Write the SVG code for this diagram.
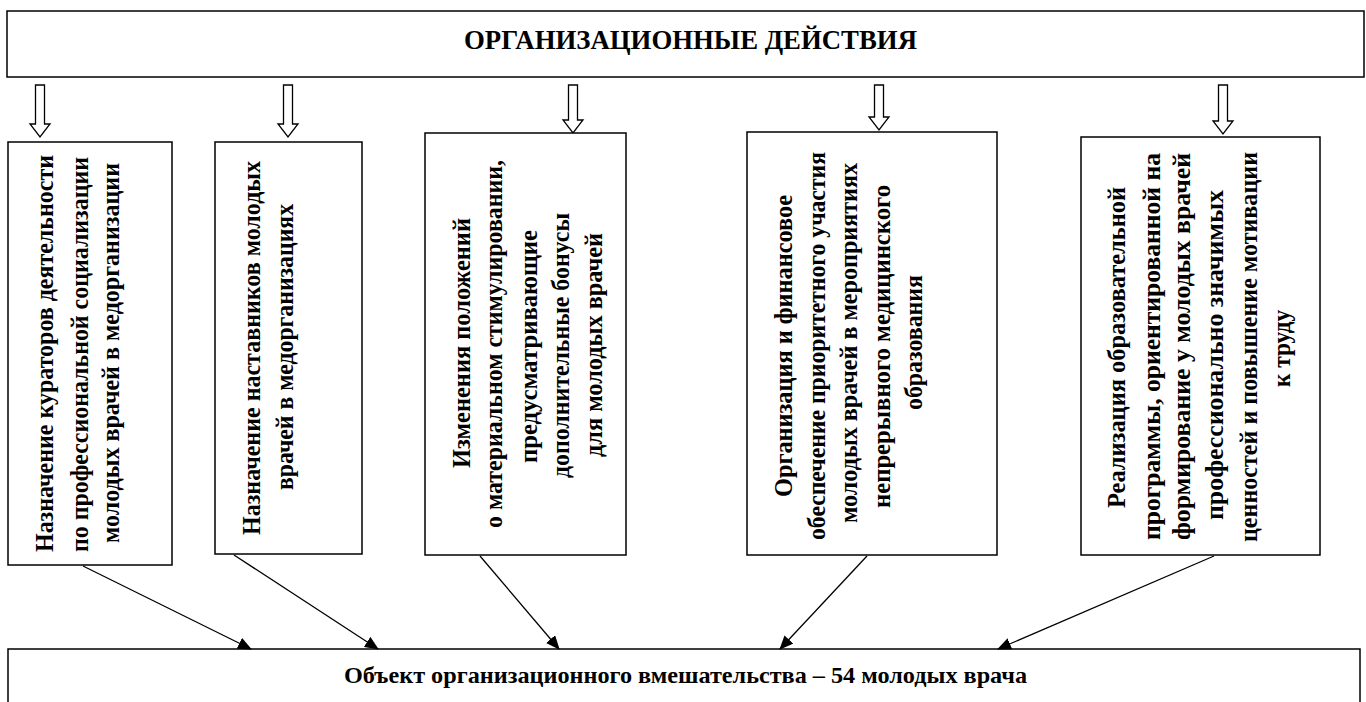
<svg xmlns="http://www.w3.org/2000/svg" width="1366" height="702" viewBox="0 0 1366 702">
<style>
.box{fill:#fff;stroke:#000;stroke-width:1.5}
.t{font-family:"Liberation Serif","DejaVu Serif","Noto Serif",serif;font-weight:700;fill:#000}
.bt{font-size:26px}
.blk{fill:#fff;stroke:#000;stroke-width:1.3}
.con{stroke:#000;stroke-width:1.3;fill:none}
</style>
<defs>
<marker id="ah" markerUnits="userSpaceOnUse" markerWidth="14" markerHeight="12" refX="13" refY="6" orient="auto"><path d="M0,0 L14,6 L0,12 Z" fill="#000"/></marker>
</defs>
<rect width="1366" height="702" fill="#fff"/>

<g id="top">
<rect class="box" x="7" y="11" width="1357" height="66"/>
<text class="t" x="464" y="49" font-size="27" textLength="453" lengthAdjust="spacingAndGlyphs">ОРГАНИЗАЦИОННЫЕ ДЕЙСТВИЯ</text>
</g>

<g id="block-arrows">
<path class="blk" d="M35.5,85 H44.5 V124 H50 L40,137 L30,124 H35.5 Z"/>
<path class="blk" d="M283.5,85 H292.5 V124 H298 L288,137 L278,124 H283.5 Z"/>
<path class="blk" d="M568.5,85 H577.5 V120 H583 L573,133 L563,120 H568.5 Z"/>
<path class="blk" d="M874.5,85 H883.5 V117 H889 L879,130 L869,117 H874.5 Z"/>
<path class="blk" d="M1218.5,85 H1227.5 V121 H1233 L1223,134 L1213,121 H1218.5 Z"/>
</g>

<g id="box1">
<rect class="box" x="8" y="142" width="164" height="423"/>
<text class="t bt" transform="translate(53,552) rotate(-90)" textLength="397" lengthAdjust="spacingAndGlyphs">Назначение кураторов деятельности</text>
<text class="t bt" transform="translate(88,552) rotate(-90)" textLength="395" lengthAdjust="spacingAndGlyphs">по профессиональной социализации</text>
<text class="t bt" transform="translate(119,543) rotate(-90)" textLength="380" lengthAdjust="spacingAndGlyphs">молодых врачей в медорганизации</text>
</g>

<g id="box2">
<rect class="box" x="215" y="142" width="147" height="412"/>
<text class="t bt" transform="translate(260,535) rotate(-90)" textLength="374" lengthAdjust="spacingAndGlyphs">Назначение наставников молодых</text>
<text class="t bt" transform="translate(293,490) rotate(-90)" textLength="286" lengthAdjust="spacingAndGlyphs">врачей в медорганизациях</text>
</g>

<g id="box3">
<rect class="box" x="425" y="133" width="201" height="422"/>
<text class="t bt" transform="translate(470,468) rotate(-90)" textLength="250" lengthAdjust="spacingAndGlyphs">Изменения  положений</text>
<text class="t bt" transform="translate(502,528) rotate(-90)" textLength="368" lengthAdjust="spacingAndGlyphs">о материальном стимулировании,</text>
<text class="t bt" transform="translate(537,463) rotate(-90)" textLength="233" lengthAdjust="spacingAndGlyphs">предусматривающие</text>
<text class="t bt" transform="translate(569,478) rotate(-90)" textLength="265" lengthAdjust="spacingAndGlyphs">дополнительные бонусы</text>
<text class="t bt" transform="translate(602,457) rotate(-90)" textLength="224" lengthAdjust="spacingAndGlyphs">для молодых врачей</text>
</g>

<g id="box4">
<rect class="box" x="747" y="132" width="250" height="423"/>
<text class="t bt" transform="translate(792,497) rotate(-90)" textLength="302" lengthAdjust="spacingAndGlyphs">Организация и финансовое</text>
<text class="t bt" transform="translate(825,540) rotate(-90)" textLength="388" lengthAdjust="spacingAndGlyphs">обеспечение приоритетного участия</text>
<text class="t bt" transform="translate(857,523) rotate(-90)" textLength="360" lengthAdjust="spacingAndGlyphs">молодых врачей в мероприятиях</text>
<text class="t bt" transform="translate(890,508) rotate(-90)" textLength="323" lengthAdjust="spacingAndGlyphs">непрерывного медицинского</text>
<text class="t bt" transform="translate(922,410) rotate(-90)" textLength="135" lengthAdjust="spacingAndGlyphs">образования</text>
</g>

<g id="box5">
<rect class="box" x="1081" y="137" width="239" height="418"/>
<text class="t bt" transform="translate(1125,508) rotate(-90)" textLength="321" lengthAdjust="spacingAndGlyphs">Реализация  образовательной</text>
<text class="t bt" transform="translate(1160,540) rotate(-90)" textLength="387" lengthAdjust="spacingAndGlyphs">программы, ориентированной на</text>
<text class="t bt" transform="translate(1190,540) rotate(-90)" textLength="387" lengthAdjust="spacingAndGlyphs">формирование у молодых врачей</text>
<text class="t bt" transform="translate(1223,520) rotate(-90)" textLength="330" lengthAdjust="spacingAndGlyphs">профессионально значимых</text>
<text class="t bt" transform="translate(1257,542) rotate(-90)" textLength="390" lengthAdjust="spacingAndGlyphs">ценностей и повышение мотивации</text>
<text class="t bt" transform="translate(1290,387) rotate(-90)" textLength="77" lengthAdjust="spacingAndGlyphs">к труду</text>
</g>

<g id="bottom">
<rect class="box" x="8" y="649" width="1352" height="60"/>
<text class="t" x="344" y="683" font-size="24" textLength="683" lengthAdjust="spacingAndGlyphs">Объект организационного вмешательства – 54 молодых врача</text>
</g>

<g id="connectors">
<line class="con" x1="83" y1="566" x2="251" y2="649" marker-end="url(#ah)"/>
<line class="con" x1="234" y1="555" x2="378" y2="649" marker-end="url(#ah)"/>
<line class="con" x1="480" y1="556" x2="559" y2="649" marker-end="url(#ah)"/>
<line class="con" x1="867" y1="556" x2="780" y2="649" marker-end="url(#ah)"/>
<line class="con" x1="1214" y1="556" x2="998" y2="649" marker-end="url(#ah)"/>
</g>
</svg>
